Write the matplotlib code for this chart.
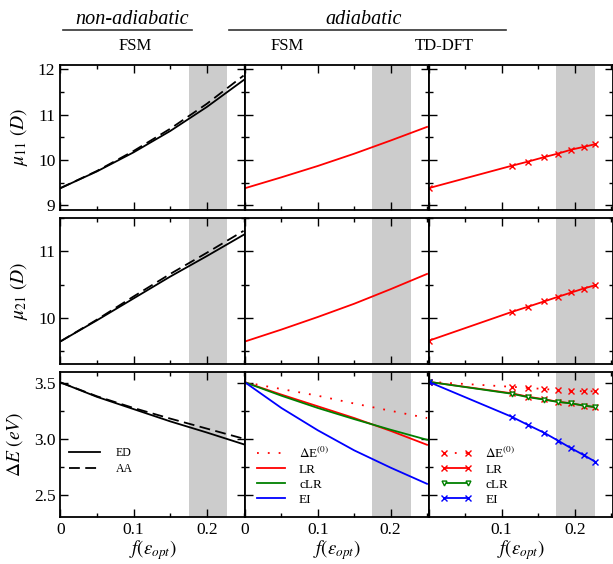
import matplotlib
matplotlib.use("Agg")
import matplotlib.pyplot as plt
from matplotlib.lines import Line2D
from matplotlib.ticker import MultipleLocator

plt.rcParams['font.family'] = ['Liberation Serif', 'DejaVu Serif']
plt.rcParams['mathtext.fontset'] = 'stix'

# ---------------- data ----------------
x_fsm = [0.0, 0.05, 0.10, 0.15, 0.20, 0.25]
x_td = [0.0, 0.1136, 0.1364, 0.1582, 0.1773, 0.1955, 0.2123, 0.2282]

# non-adiabatic FSM
mu11_ED = [9.38, 9.75, 10.17, 10.64, 11.17, 11.76]
mu11_AA = [9.38, 9.76, 10.20, 10.69, 11.24, 11.86]
mu21_ED = [9.64, 9.96, 10.29, 10.62, 10.93, 11.25]
mu21_AA = [9.64, 9.97, 10.32, 10.66, 10.98, 11.31]
dE_ED = [3.51, 3.38, 3.27, 3.16, 3.06, 2.955]
dE_AA = [3.51, 3.385, 3.28, 3.185, 3.095, 3.005]

# adiabatic FSM
mu11_fsm = [9.38, 9.62, 9.87, 10.14, 10.43, 10.73]
mu21_fsm = [9.64, 9.82, 10.01, 10.21, 10.43, 10.66]
dE0_fsm = [3.51, 3.45, 3.39, 3.32, 3.255, 3.19]
LR_fsm = [3.51, 3.40, 3.295, 3.19, 3.075, 2.95]
cLR_fsm = [3.51, 3.39, 3.28, 3.18, 3.085, 2.995]
EI_fsm = [3.51, 3.28, 3.08, 2.90, 2.745, 2.60]

# adiabatic TD-DFT
mu11_td = [9.38, 9.873, 9.967, 10.064, 10.143, 10.23, 10.29, 10.35]
mu21_td = [9.65, 10.085, 10.166, 10.245, 10.315, 10.38, 10.44, 10.49]
dE0_td = [3.515, 3.47, 3.46, 3.45, 3.44, 3.435, 3.43, 3.43]
LR_td = [3.515, 3.412, 3.381, 3.358, 3.336, 3.322, 3.301, 3.286]
cLR_td = [3.515, 3.408, 3.377, 3.355, 3.334, 3.321, 3.302, 3.289]
EI_td = [3.515, 3.202, 3.127, 3.058, 2.987, 2.918, 2.858, 2.798]

band = (0.175, 0.228)
xlim = (0.0, 0.252)
ylims = [(8.9, 12.1), (9.3, 11.5), (2.3, 3.6)]
ylabels = [r'$\mu_{\mathit{11}}\ (D)$', r'$\mu_{\mathit{21}}\ (D)$', r'$\mathit{\Delta E}\ (eV)$']
xticks_main = [0, 0.1, 0.2]
xticklabels_main = ['0', '0.1', '0.2']
yticks_maj = [1.0, 1.0, 0.5]
yticks_min = [0.5, 0.5, 0.25]

# ---------------- figure ----------------
fig = plt.figure(figsize=(6.13, 5.64), dpi=100)
W, H = 613.0, 564.0
col_px = [(60.3, 245.0), (245.0, 428.5), (428.5, 612.7)]
row_px = [(64.7, 210.0), (218.3, 364.0), (372.3, 517.3)]

axes = [[None] * 3 for _ in range(3)]
for r, (t, b) in enumerate(row_px):
    for c, (l, rr) in enumerate(col_px):
        ax = fig.add_axes([l / W, 1 - b / H, (rr - l) / W, (b - t) / H])
        axes[r][c] = ax
        ax.axvspan(band[0], band[1], color='#cccccc', lw=0, zorder=0)
        ax.set_xlim(*xlim)
        ax.set_ylim(*ylims[r])
        ax.xaxis.set_major_locator(MultipleLocator(0.1))
        ax.xaxis.set_minor_locator(MultipleLocator(0.05))
        ax.yaxis.set_major_locator(MultipleLocator(yticks_maj[r]))
        ax.yaxis.set_minor_locator(MultipleLocator(yticks_min[r]))
        ax.tick_params(which='both', direction='in', top=True, right=True,
                       labelsize=12.5, width=1.0)
        ax.tick_params(which='major', length=6)
        ax.tick_params(which='minor', length=3)
        for s in ax.spines.values():
            s.set_linewidth(1.3)
        if c != 0:
            ax.set_yticklabels([])
        else:
            ax.set_ylabel(ylabels[r], fontsize=14, labelpad=6)
        if r != 2:
            ax.set_xticklabels([])
        else:
            ax.set_xticks(xticks_main)
            if c == 2:
                ax.set_xticklabels(['', '0.1', '0.2'])
            else:
                ax.set_xticklabels(xticklabels_main)
            ax.set_xlabel(r'$f(\epsilon_{opt})$', fontsize=13.5, labelpad=0)
        if r == 0:
            ax.set_yticks([9, 10, 11, 12])
        if r == 2:
            ax.set_yticks([2.5, 3.0, 3.5])

lw = 1.3
dot = (0, (1, 5))
# column 1: non-adiabatic FSM
ax = axes[0][0]
ax.plot(x_fsm, mu11_ED, 'k-', lw=lw)
ax.plot(x_fsm, mu11_AA, 'k--', lw=lw, dashes=(6, 3))
ax = axes[1][0]
ax.plot(x_fsm, mu21_ED, 'k-', lw=lw)
ax.plot(x_fsm, mu21_AA, 'k--', lw=lw, dashes=(6, 3))
ax = axes[2][0]
ax.plot(x_fsm, dE_ED, 'k-', lw=lw, label='ED')
ax.plot(x_fsm, dE_AA, 'k--', lw=lw, dashes=(6, 3), label='AA')
ax.legend(loc='upper left', bbox_to_anchor=(0.005, 0.54), frameon=False,
          fontsize=8.5, handlelength=2.6, labelspacing=0.3, handletextpad=1.3,
          borderaxespad=0.3)

# column 2: adiabatic FSM
axes[0][1].plot(x_fsm, mu11_fsm, color='red', lw=lw)
axes[1][1].plot(x_fsm, mu21_fsm, color='red', lw=lw)
ax = axes[2][1]
ax.plot(x_fsm, dE0_fsm, color='red', lw=lw, ls=dot, label=r'$\Delta$E$^{(0)}$')
ax.plot(x_fsm, LR_fsm, color='red', lw=lw, label='LR')
ax.plot(x_fsm, cLR_fsm, color='green', lw=lw, label='cLR')
ax.plot(x_fsm, EI_fsm, color='blue', lw=lw, label='EI')
ax.legend(loc='upper left', bbox_to_anchor=(0.0, 0.575), frameon=False,
          fontsize=9.5, handlelength=2.1, labelspacing=0.2, handletextpad=1.1)

# column 3: adiabatic TD-DFT
ms = 4
axes[0][2].plot(x_td, mu11_td, color='red', lw=lw, marker='x', ms=ms)
axes[1][2].plot(x_td, mu21_td, color='red', lw=lw, marker='x', ms=ms)
ax = axes[2][2]
ax.plot(x_td, dE0_td, color='red', lw=lw, ls=dot, marker='x', ms=ms,
        label=r'$\Delta$E$^{(0)}$')
ax.plot(x_td, LR_td, color='red', lw=lw, marker='x', ms=ms, label='LR')
ax.plot(x_td, cLR_td, color='green', lw=lw, marker='v', ms=3.5, mfc='white', label='cLR')
ax.plot(x_td, EI_td, color='blue', lw=lw, marker='x', ms=ms, label='EI')
ax.legend(loc='upper left', bbox_to_anchor=(0.0, 0.575), frameon=False,
          fontsize=9.5, handlelength=2.4, labelspacing=0.2, handletextpad=1.0,
          numpoints=2)

# headings
fig.text(131.7 / W, 1 - 20 / H, 'non-adiabatic', ha='center', va='center',
         fontsize=14.5, style='italic')
fig.text(364 / W, 1 - 20 / H, 'adiabatic', ha='center', va='center',
         fontsize=14.5, style='italic')
fig.add_artist(Line2D([63 / W, 192 / W], [1 - 30 / H, 1 - 30 / H], color='#333333', lw=1.2))
fig.add_artist(Line2D([229 / W, 506 / W], [1 - 30 / H, 1 - 30 / H], color='#333333', lw=1.2))
fig.text(135 / W, 1 - 46 / H, 'FSM', ha='center', va='center', fontsize=12)
fig.text(287 / W, 1 - 46 / H, 'FSM', ha='center', va='center', fontsize=12)
fig.text(444 / W, 1 - 46 / H, 'TD-DFT', ha='center', va='center', fontsize=12)

fig.savefig('out.png', dpi=100)
